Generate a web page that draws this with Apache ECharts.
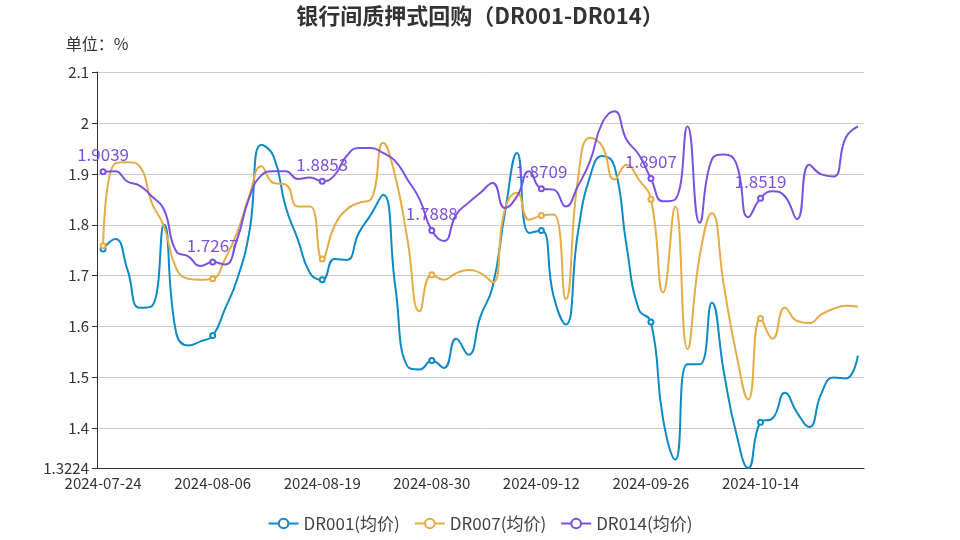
<!DOCTYPE html>
<html>
<head>
<meta charset="utf-8">
<script src="https://cdn.jsdelivr.net/npm/echarts@6/dist/echarts.min.js"></script>
<style>html,body{margin:0;padding:0;background:#fff}#c{width:960px;height:540px}</style>
</head>
<body>
<div id="c"></div>
<script>
const dates = ["2024-07-24","2024-07-25","2024-07-26","2024-07-29","2024-07-30","2024-07-31","2024-08-01","2024-08-02","2024-08-05","2024-08-06",
"2024-08-07","2024-08-08","2024-08-09","2024-08-12","2024-08-13","2024-08-14","2024-08-15","2024-08-16","2024-08-19","2024-08-20",
"2024-08-21","2024-08-22","2024-08-23","2024-08-26","2024-08-27","2024-08-28","2024-08-29","2024-08-30","2024-09-02","2024-09-03",
"2024-09-04","2024-09-05","2024-09-06","2024-09-09","2024-09-10","2024-09-11","2024-09-12","2024-09-13","2024-09-14","2024-09-18",
"2024-09-19","2024-09-20","2024-09-23","2024-09-24","2024-09-25","2024-09-26","2024-09-27","2024-09-29","2024-09-30","2024-10-08",
"2024-10-09","2024-10-10","2024-10-11","2024-10-12","2024-10-14","2024-10-15","2024-10-16","2024-10-17","2024-10-18","2024-10-21",
"2024-10-22","2024-10-23","2024-10-24"];

const dr001 = [1.7526,1.772,1.712,1.637,1.640,1.800,1.588,1.563,1.571,1.5825,
1.634,1.692,1.784,1.957,1.935,1.835,1.771,1.705,1.692,1.733,
1.731,1.784,1.820,1.859,1.679,1.522,1.516,1.5335,1.519,1.576,
1.545,1.620,1.679,1.823,1.941,1.784,1.789,1.660,1.604,1.784,
1.895,1.935,1.915,1.758,1.634,1.609,1.418,1.339,1.526,1.526,
1.647,1.509,1.391,1.3224,1.412,1.420,1.470,1.431,1.403,1.469,
1.500,1.498,1.543];

const dr007 = [1.759,1.921,1.923,1.915,1.843,1.797,1.715,1.694,1.692,1.694,
1.732,1.784,1.856,1.915,1.882,1.879,1.836,1.836,1.733,1.797,
1.830,1.843,1.850,1.961,1.895,1.771,1.630,1.702,1.692,1.705,
1.711,1.705,1.687,1.830,1.863,1.810,1.818,1.820,1.654,1.889,
1.971,1.954,1.889,1.918,1.889,1.850,1.667,1.836,1.556,1.738,
1.823,1.679,1.548,1.457,1.616,1.576,1.637,1.611,1.607,1.624,
1.635,1.641,1.639];

const dr014 = [1.9039,1.905,1.885,1.877,1.856,1.830,1.748,1.738,1.719,1.7267,
1.722,1.771,1.853,1.897,1.905,1.905,1.890,1.893,1.8853,1.897,
1.935,1.951,1.951,1.941,1.925,1.889,1.850,1.7888,1.768,1.820,
1.843,1.863,1.882,1.833,1.856,1.905,1.8709,1.869,1.836,1.876,
1.925,2.000,2.023,1.967,1.938,1.8907,1.846,1.850,1.993,1.804,
1.928,1.938,1.921,1.815,1.8519,1.866,1.856,1.811,1.918,1.899,
1.895,1.971,1.993];

const seriesNames = ["DR001(均价)","DR007(均价)","DR014(均价)"];
const colors = ["#0e8ac6","#e5ac48","#7b52e0"];
const FONT = "'Microsoft YaHei','Noto Sans CJK SC',sans-serif";

const chart = echarts.init(document.getElementById('c'), null, {renderer:'canvas'});
chart.setOption({
  animation:false,
  color: colors,
  textStyle:{fontFamily:FONT},
  title:{text:"银行间质押式回购（DR001-DR014）",left:'center',top:0,
    textStyle:{fontSize:22,fontWeight:'bold',color:'#333',fontFamily:FONT}},
  legend:{bottom:3,left:'center',itemGap:14,itemWidth:30,itemHeight:12,
    textStyle:{fontSize:17,color:'#444',fontFamily:FONT},data:seriesNames},
  grid:{left:97,right:96,top:72,bottom:72,containLabel:false},
  xAxis:{type:'category',data:dates,boundaryGap:true,
    axisLine:{lineStyle:{color:'#333'}},
    axisTick:{interval:8,lineStyle:{color:'#333'}},
    axisLabel:{interval:8,fontSize:15,color:'#333',margin:8,fontFamily:FONT}},
  yAxis:{type:'value',min:1.3224,max:2.1,splitNumber:8,
    name:"单位：%",nameLocation:'end',nameGap:20,
    nameTextStyle:{fontSize:16,color:'#333',fontFamily:FONT},
    axisLine:{show:true,lineStyle:{color:'#333'}},
    axisTick:{show:true,lineStyle:{color:'#333'}},
    axisLabel:{fontSize:15,color:'#333',fontFamily:FONT},
    splitLine:{lineStyle:{color:'#ccc'}}},
  series:[
    {name:seriesNames[0],type:'line',smooth:true,data:dr001,symbol:'emptyCircle',symbolSize:5,
      showAllSymbol:false,lineStyle:{width:2}},
    {name:seriesNames[1],type:'line',smooth:true,data:dr007,symbol:'emptyCircle',symbolSize:5,
      showAllSymbol:false,lineStyle:{width:2}},
    {name:seriesNames[2],type:'line',smooth:true,data:dr014,symbol:'emptyCircle',symbolSize:5,
      showAllSymbol:false,lineStyle:{width:2},
      label:{show:true,position:'top',fontSize:17,color:colors[2],fontFamily:FONT}}
  ]
});
</script>
</body>
</html>
